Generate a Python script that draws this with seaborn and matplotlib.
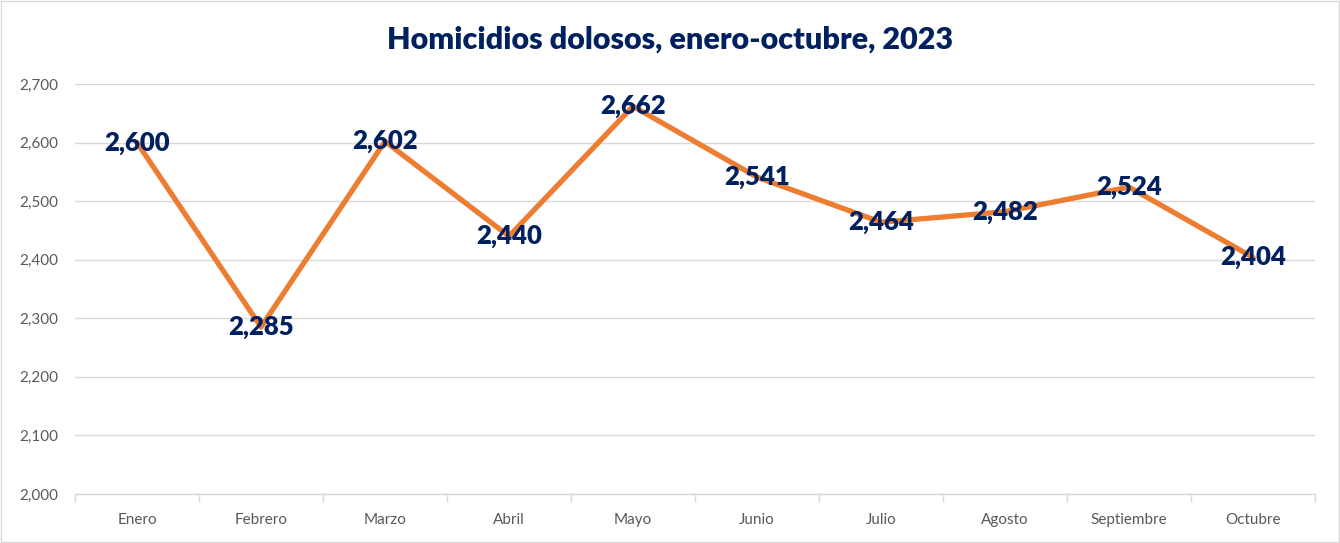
import matplotlib
matplotlib.use("Agg")
import matplotlib.pyplot as plt
import seaborn as sns
import pandas as pd
from matplotlib.ticker import FuncFormatter, FixedLocator

# data
meses = ["Enero", "Febrero", "Marzo", "Abril", "Mayo", "Junio",
         "Julio", "Agosto", "Septiembre", "Octubre"]
homicidios = [2600, 2285, 2602, 2440, 2662, 2541, 2464, 2482, 2524, 2404]
y_ticks = [2000, 2100, 2200, 2300, 2400, 2500, 2600, 2700]

df = pd.DataFrame({"mes": meses, "homicidios": homicidios})
df["pos"] = range(len(meses))

sns.set_theme(style="white")
plt.rcParams["font.family"] = ["Lato", "DejaVu Sans"]

navy = "#002060"
naranja = "#ED7D31"
gris = "#595959"

fig = plt.figure(figsize=(13.4, 5.43), dpi=100)
ax = fig.add_axes([75 / 1340, 1 - 494 / 543, 1240 / 1340, 410 / 543])

sns.lineplot(data=df, x="pos", y="homicidios", ax=ax, color=naranja,
             linewidth=3.8, solid_capstyle="round", zorder=3)

for x, v in zip(df["pos"], df["homicidios"]):
    ax.text(x, v, f"{v:,}", ha="center", va="center", fontsize=18.5,
            fontweight="heavy", color=navy, zorder=4)

ax.set_xlim(-0.5, len(meses) - 0.5)
ax.set_ylim(2000, 2700)
ax.set_yticks(y_ticks)
ax.yaxis.set_major_formatter(FuncFormatter(lambda v, p: f"{int(v):,}"))
ax.set_xticks(range(len(meses)))
ax.set_xticklabels(meses)
ax.xaxis.set_minor_locator(FixedLocator([i + 0.5 for i in range(-1, len(meses))]))
ax.tick_params(axis="x", which="major", length=0, pad=14, labelsize=11, labelcolor=gris)
ax.tick_params(axis="x", which="minor", length=6, color="#D9D9D9", width=1, bottom=True)
ax.tick_params(axis="y", length=0, pad=12, labelsize=11, labelcolor=gris)
ax.grid(axis="y", color="#D9D9D9", linewidth=1)
ax.set_axisbelow(True)
for s in ["top", "right", "left"]:
    ax.spines[s].set_visible(False)
ax.spines["bottom"].set_color("#D9D9D9")
ax.spines["bottom"].set_linewidth(1)
ax.set_xlabel("")
ax.set_ylabel("")

fig.text(0.5, 1 - 40 / 543, "Homicidios dolosos, enero-octubre, 2023",
         ha="center", va="center", fontsize=22, fontweight="heavy", color=navy)

fig.patches.append(plt.Rectangle((0.001, 0.002), 0.998, 0.996, transform=fig.transFigure,
                                 fill=False, edgecolor="#D9D9D9", linewidth=1))

fig.savefig("out.png", dpi=100, facecolor="white")
